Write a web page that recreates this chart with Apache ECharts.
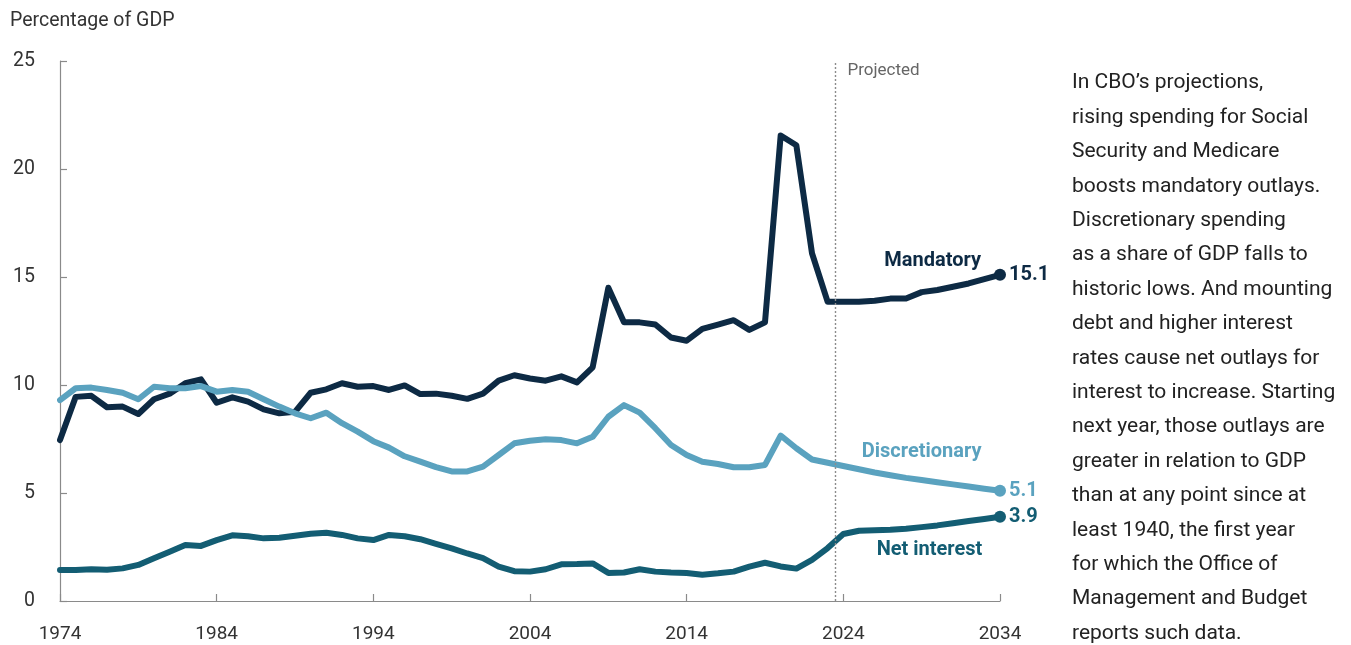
<!DOCTYPE html>
<html>
<head>
<meta charset="utf-8">
<script src="https://cdn.jsdelivr.net/npm/echarts@6/dist/echarts.min.js"></script>
<style>
html,body{margin:0;padding:0;background:#fff;}
#chart{width:1351px;height:645px;}
</style>
</head>
<body>
<div id="chart"></div>
<script>
const years = [];
for (let y = 1974; y <= 2034; y++) years.push(String(y));

const mandatory = [7.45, 9.45, 9.5, 8.97, 9.0, 8.66, 9.34, 9.6, 10.08, 10.26,
  9.18, 9.43, 9.23, 8.87, 8.69, 8.76, 9.64, 9.8, 10.08, 9.92,
  9.95, 9.77, 9.98, 9.58, 9.6, 9.5, 9.36, 9.6, 10.2, 10.45,
  10.3, 10.2, 10.4, 10.12, 10.82, 14.5, 12.9, 12.9, 12.8, 12.2,
  12.05, 12.6, 12.8, 13.0, 12.55, 12.9, 21.55, 21.1, 16.1, 13.85,
  13.85, 13.85, 13.9, 14.0, 14.0, 14.3, 14.4, 14.55, 14.7, 14.9, 15.1];

const discretionary = [9.3, 9.85, 9.88, 9.77, 9.64, 9.34, 9.92, 9.85, 9.85, 9.95,
  9.69, 9.77, 9.69, 9.34, 9.0, 8.69, 8.46, 8.72, 8.23, 7.84,
  7.4, 7.1, 6.7, 6.45, 6.2, 6.0, 6.0, 6.22, 6.76, 7.3,
  7.42, 7.49, 7.45, 7.3, 7.6, 8.53, 9.07, 8.72, 8.0, 7.22,
  6.76, 6.45, 6.34, 6.19, 6.19, 6.3, 7.66, 7.07, 6.55, 6.4,
  6.25, 6.1, 5.95, 5.82, 5.7, 5.6, 5.5, 5.4, 5.3, 5.2, 5.1];

const netInterest = [1.43, 1.43, 1.47, 1.45, 1.51, 1.67, 1.98, 2.28, 2.59, 2.55,
  2.82, 3.04, 3.0, 2.9, 2.93, 3.02, 3.11, 3.16, 3.06, 2.9,
  2.82, 3.06, 3.0, 2.86, 2.65, 2.44, 2.2, 1.98, 1.59, 1.38,
  1.36, 1.47, 1.7, 1.71, 1.74, 1.3, 1.32, 1.47, 1.36, 1.32,
  1.3, 1.22, 1.28, 1.36, 1.59, 1.77, 1.6, 1.5, 1.9, 2.45,
  3.1, 3.25, 3.28, 3.3, 3.35, 3.42, 3.5, 3.6, 3.7, 3.8, 3.9];

const yTicks = [0, 5, 10, 15, 20, 25];
const projectedStart = 2023.5;
const seriesNames = ['Mandatory', 'Discretionary', 'Net interest'];
const nameAnchors = [[2029.7, 15.75], [2029.0, 6.9], [2029.5, 2.35]];

const colors = ['#0d2a44', '#5aa2bf', '#135d73'];
const FONT = 'Roboto, "Liberation Sans", sans-serif';

const chart = echarts.init(document.getElementById('chart'), null, {renderer: 'canvas'});

function lineSeries(name, data, color) {
  return {
    name: name,
    type: 'line',
    data: data,
    xAxisIndex: 0,
    yAxisIndex: 0,
    showSymbol: true,
    symbol: 'circle',
    symbolSize: function (v, p) { return p.dataIndex === data.length - 1 ? 12 : 0; },
    lineStyle: {color: color, width: 6, join: 'round', cap: 'round'},
    itemStyle: {color: color},
    animation: false,
    silent: true,
    endLabel: {
      show: true,
      formatter: function (p) { return p.value.toFixed(1); },
      color: color,
      fontFamily: FONT,
      fontSize: 20,
      fontWeight: 'bold',
      distance: 9
    }
  };
}

function nameLabel(i) {
  return {coord: nameAnchors[i], value: seriesNames[i],
    label: {show: true, formatter: seriesNames[i], color: colors[i], fontFamily: FONT, fontSize: 20, fontWeight: 'bold'}};
}

const option = {
  backgroundColor: '#ffffff',
  animation: false,
  grid: {left: 60, right: 351, top: 61, bottom: 44, containLabel: false},
  xAxis: [{
    type: 'category',
    data: years,
    boundaryGap: false,
    axisLine: {show: true, lineStyle: {color: '#8a8a8a', width: 1.2}},
    axisTick: {show: true, inside: true, length: 7, alignWithLabel: true,
      interval: function (i) { return i % 10 === 0; },
      lineStyle: {color: '#8a8a8a', width: 1.2}},
    axisLabel: {
      interval: function (i) { return i % 10 === 0; },
      color: '#333', fontFamily: FONT, fontSize: 19, margin: 24
    },
    splitLine: {show: false}
  }, {
    type: 'value',
    min: 1974,
    max: 2034,
    show: false
  }],
  yAxis: {
    type: 'value',
    min: 0, max: 25, interval: 5,
    axisLine: {show: true, lineStyle: {color: '#8a8a8a', width: 1.2}},
    axisTick: {show: true, inside: true, length: 7, lineStyle: {color: '#8a8a8a', width: 1.2}},
    axisLabel: {color: '#333', fontFamily: FONT, fontSize: 19.5, margin: 25,
      formatter: function (v) { return yTicks.indexOf(v) >= 0 ? String(v) : ''; }},
    splitLine: {show: false}
  },
  series: [
    {
      name: 'annotations',
      type: 'line',
      xAxisIndex: 1,
      yAxisIndex: 0,
      data: [],
      silent: true,
      markLine: {
        silent: true,
        symbol: 'none',
        lineStyle: {color: '#8c8c8c', type: [2, 2], width: 1.4},
        label: {show: false},
        data: [{xAxis: projectedStart}]
      },
      markPoint: {
        silent: true,
        symbol: 'circle',
        symbolSize: 0,
        data: [
          nameLabel(0), nameLabel(1), nameLabel(2),
          {coord: [projectedStart, 25], value: 'Projected',
            label: {show: true, formatter: 'Projected', position: 'right', distance: 12, offset: [0, 10],
              color: '#666', fontFamily: FONT, fontSize: 17}}
        ]
      }
    },
    lineSeries(seriesNames[0], mandatory, colors[0]),
    lineSeries(seriesNames[1], discretionary, colors[1]),
    lineSeries(seriesNames[2], netInterest, colors[2])
  ],
  graphic: [
    {
      type: 'text',
      left: 10, top: 11,
      style: {text: 'Percentage of GDP', fill: '#333', font: '19.5px ' + FONT}
    },
    {
      type: 'text',
      left: 1072, top: 66,
      style: {
        text: [
          'In CBO\u2019s projections,',
          'rising spending for Social',
          'Security and Medicare',
          'boosts mandatory outlays.',
          'Discretionary spending',
          'as a share of GDP falls to',
          'historic lows. And mounting',
          'debt and higher interest',
          'rates cause net outlays for',
          'interest to increase. Starting',
          'next year, those outlays are',
          'greater in relation to GDP',
          'than at any point since at',
          'least 1940, the first year',
          'for which the Office of',
          'Management and Budget',
          'reports such data.'
        ].join('\n'),
        fill: '#222',
        font: '21px ' + FONT,
        lineHeight: 34.4
      }
    }
  ]
};

chart.setOption(option);
</script>
</body>
</html>
